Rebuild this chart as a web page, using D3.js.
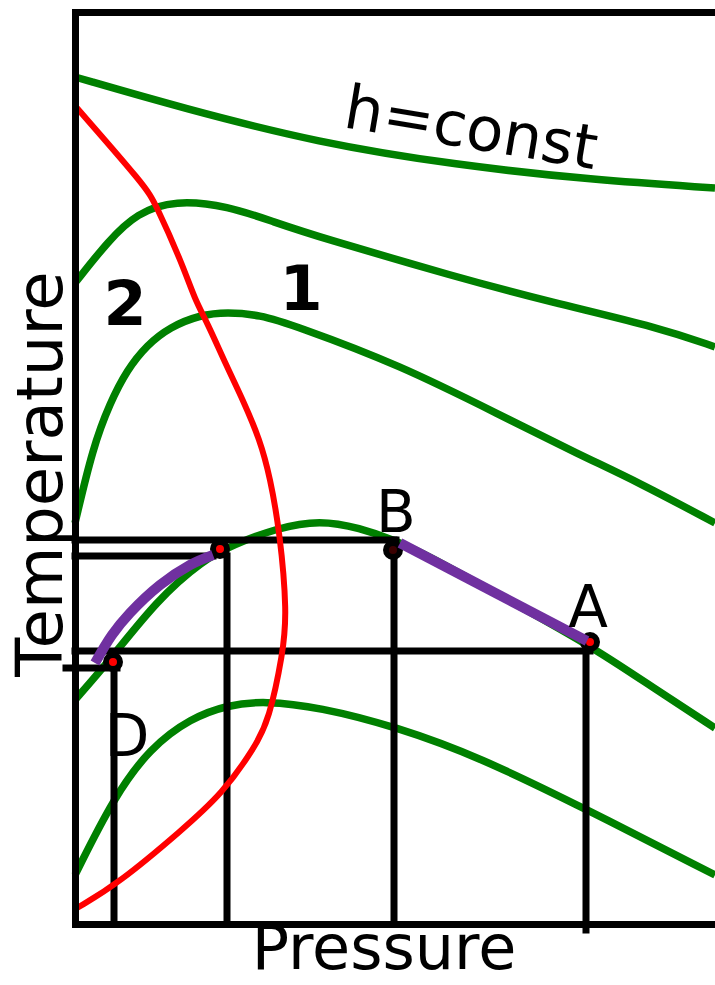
<!DOCTYPE html>
<html><head><meta charset="utf-8">
<script src="https://cdn.jsdelivr.net/npm/d3@7"></script>
<style>html,body{margin:0;padding:0;background:#fff;} svg{display:block}</style>
</head><body>
<svg id="chart" width="715" height="985"></svg>
<script>
// ---- data (pressure, temperature) in arbitrary units ----
const pressureDomain = [0, 64];
const temperatureDomain = [0, 91.2];

const isenthalp1 = [[0,84.7],[10.7,81.6],[24.4,78.1],[38.1,75.9],[51.8,74.4],[64,73.6]];
const isenthalp2 = [[0,64.1],[3.4,68.4],[6.2,71.1],[10,72.4],[15.3,71.8],[19.9,70.2],[24.4,68.7],[38.1,64.7],[47.5,62.2],[58.6,59.6],[64,57.7]];
const isenthalp3 = [[0,40.1],[1.8,47.7],[3.5,52.1],[5.2,55.4],[7.2,57.9],[9.5,59.7],[12.5,60.9],[15.2,61.2],[18.5,60.9],[21.8,59.9],[32.5,55.9],[42.5,50.9],[50.5,46.9],[56.3,44.2],[64,40.1]];
const isenthalp4 = [[0,22.4],[3.5,26.4],[8.2,32.4],[12.8,36.4],[15.8,37.9],[20.2,39.6],[24.5,40.4],[28.5,39.6],[31.9,38.4],[35.2,36.9],[41.5,33.4],[51.5,27.9],[58,23.5],[64,19.6]];
const isenthalp5 = [[0,4.9],[3.9,12.7],[7.5,17.6],[11.6,20.6],[15.3,21.9],[18.9,22.3],[24.4,21.7],[32.2,19.7],[40.4,16.7],[50.9,11.6],[64,4.9]];
const inversionCurve = [[0.2,81.6],[7.1,73.7],[8,72.1],[10.7,66.1],[12,62.4],[13.2,60.2],[15.2,55.7],[16.8,52.4],[18.5,48.4],[19.5,44.7],[20.5,39.1],[21.2,31.1],[20.8,27.1],[19.4,20.4],[18,17.7],[14.8,13.1],[10.7,9.4],[4.4,4.1],[0.2,1.6]];
const processCD = [[2,26.1],[3.7,28.9],[5.5,31.1],[8.5,33.9],[11.5,35.9],[13.8,36.9]];
const processBA = [[32.5,38.1],[51.2,28.3]];

const stateNames = ["C", "B", "A", "D"];
const statePressure = [14.5, 31.8, 51.5, 3.8];
const stateTemperature = [37.5, 37.4, 28.2, 26.2];
const stateFill = ["#ff0000", "#3a0000", "#ff0000", "#ff0000"];

// guide lines: [p1, t1, p2, t2]
const guideLines = [
  [0, 38.4, 32.1, 38.4],
  [0, 36.8, 13.8, 36.8],
  [0, 27.3, 51.5, 27.3],
  [-0.9, 25.6, 4.2, 25.6],
  [3.9, 25.6, 3.9, 0],
  [15.2, 36.8, 15.2, 0],
  [31.9, 38.4, 31.9, 0],
  [51.1, 27.3, 51.1, -0.6]
];

const pointLabels = ["B", "A", "D"];
const pointLabelP = [32.1, 51.3, 5.2];
const pointLabelT = [39.2, 29.7, 16.8];
const regionLabels = ["2", "1"];
const regionLabelP = [5, 22.6];
const regionLabelT = [59.9, 61.4];
const curveLabel = "h=const";
const xTitle = "Pressure";
const yTitle = "Temperature";

// ---- drawing ----
const svg = d3.select("#chart");
const x = d3.scaleLinear().domain(pressureDomain).range([75, 715]);
const y = d3.scaleLinear().domain(temperatureDomain).range([924, 12]);
const smooth = d3.line().x(d => x(d[0])).y(d => y(d[1])).curve(d3.curveBasis);
const through = d3.line().x(d => x(d[0])).y(d => y(d[1])).curve(d3.curveCatmullRom.alpha(0.5));

const FONT = "'DejaVu Sans', Verdana, sans-serif";

svg.append("g").selectAll("path")
  .data([isenthalp1, isenthalp2, isenthalp3, isenthalp4, isenthalp5])
  .join("path")
  .attr("d", smooth).attr("fill", "none")
  .attr("stroke", "#008000").attr("stroke-width", 7.5);

svg.append("g").selectAll("line").data(guideLines).join("line")
  .attr("x1", d => x(d[0])).attr("y1", d => y(d[1]))
  .attr("x2", d => x(d[2])).attr("y2", d => y(d[3]))
  .attr("stroke", "#000").attr("stroke-width", 7).attr("stroke-linecap", "square");

svg.append("path").datum(inversionCurve)
  .attr("d", smooth).attr("fill", "none")
  .attr("stroke", "#ff0000").attr("stroke-width", 6);

svg.append("g").selectAll("circle").data(stateNames).join("circle")
  .attr("cx", (d, i) => x(statePressure[i])).attr("cy", (d, i) => y(stateTemperature[i]))
  .attr("r", 7).attr("fill", (d, i) => stateFill[i])
  .attr("stroke", "#000").attr("stroke-width", 6);

svg.append("g").selectAll("path").data([processCD, processBA]).join("path")
  .attr("d", through).attr("fill", "none")
  .attr("stroke", "#7030a0").attr("stroke-width", 10);

// frame via axes
function frame(g) {
  g.selectAll(".domain").attr("stroke", "#000").attr("stroke-width", 7).attr("stroke-linecap", "square");
}
svg.append("g").attr("transform", `translate(0,${y(0)})`)
  .call(d3.axisBottom(x).tickValues([]).tickSizeOuter(0)).call(frame);
svg.append("g").attr("transform", `translate(0,${y(temperatureDomain[1])})`)
  .call(d3.axisTop(x).tickValues([]).tickSizeOuter(0)).call(frame);
svg.append("g").attr("transform", `translate(${x(0)},0)`)
  .call(d3.axisLeft(y).tickValues([]).tickSizeOuter(0)).call(frame);

// texts
svg.append("g").selectAll("text").data(pointLabels).join("text")
  .attr("x", (d, i) => x(pointLabelP[i])).attr("y", (d, i) => y(pointLabelT[i]))
  .attr("text-anchor", "middle").attr("font-family", FONT).attr("font-size", 58)
  .text(d => d);

svg.append("g").selectAll("text").data(regionLabels).join("text")
  .attr("x", (d, i) => x(regionLabelP[i])).attr("y", (d, i) => y(regionLabelT[i]))
  .attr("text-anchor", "middle").attr("font-family", FONT).attr("font-weight", "bold").attr("font-size", 62)
  .text(d => d);

svg.append("text")
  .attr("transform", `translate(${x(26.7)},${y(79.7)}) rotate(9.5)`)
  .attr("font-family", FONT).attr("font-size", 61)
  .text(curveLabel);

svg.append("text")
  .attr("x", (x(0) + x(pressureDomain[1])) / 2 - 11).attr("y", 969)
  .attr("text-anchor", "middle").attr("font-family", FONT).attr("font-size", 62)
  .text(xTitle);

svg.append("text")
  .attr("transform", `translate(62,${y(45)}) rotate(-90)`)
  .attr("text-anchor", "middle").attr("font-family", FONT).attr("font-size", 64)
  .text(yTitle);
</script>
</body></html>
